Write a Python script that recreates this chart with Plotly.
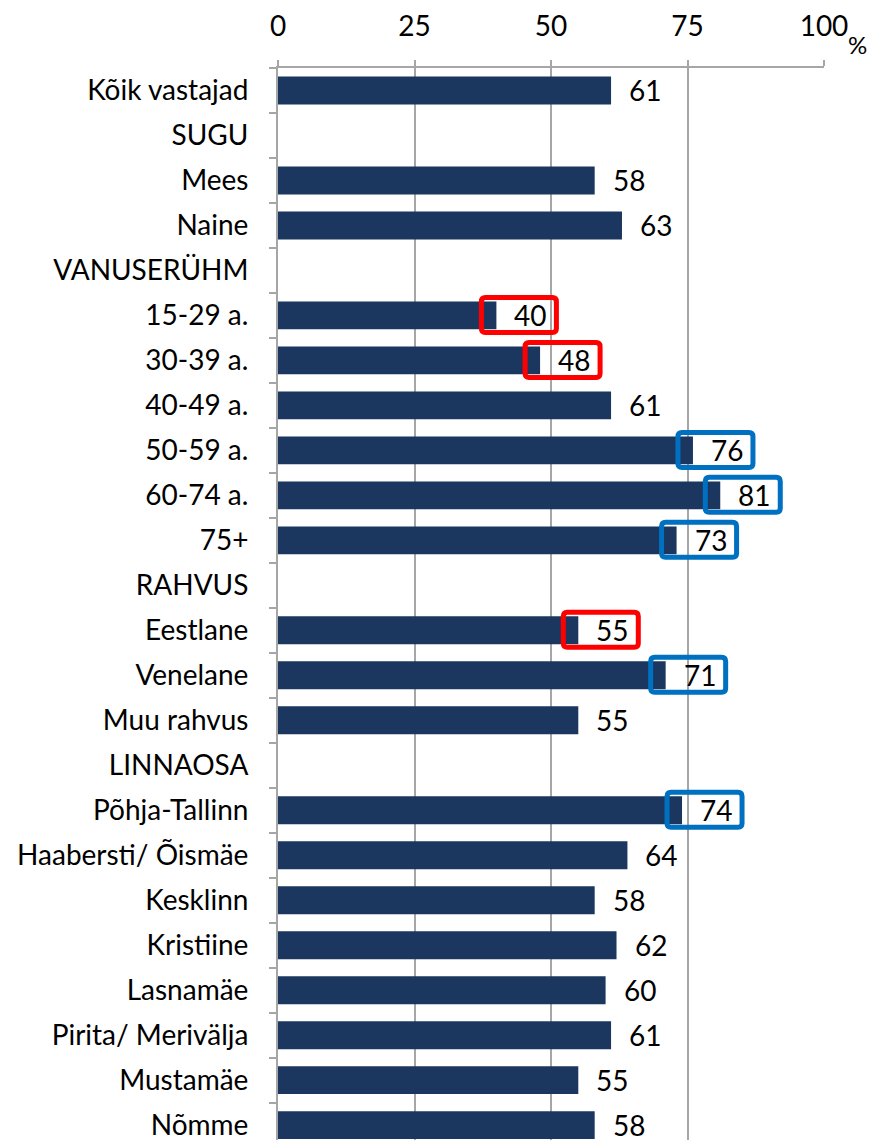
import plotly.graph_objects as go

# rows from top to bottom; group headers have no value
categories = [
    "Kõik vastajad", "SUGU", "Mees", "Naine", "VANUSERÜHM",
    "15-29 a.", "30-39 a.", "40-49 a.", "50-59 a.", "60-74 a.", "75+",
    "RAHVUS", "Eestlane", "Venelane", "Muu rahvus", "LINNAOSA",
    "Põhja-Tallinn", "Haabersti/ Õismäe", "Kesklinn", "Kristiine",
    "Lasnamäe", "Pirita/ Merivälja", "Mustamäe", "Nõmme",
]
values = [
    61, None, 58, 63, None,
    40, 48, 61, 76, 81, 73,
    None, 55, 71, 55, None,
    74, 64, 58, 62, 60, 61, 55, 58,
]
# highlight boxes around the value labels
low_rows = ["15-29 a.", "30-39 a.", "Eestlane"]
high_rows = ["50-59 a.", "60-74 a.", "75+", "Venelane", "Põhja-Tallinn"]
x_ticks = [0, 25, 50, 75, 100]

BAR = "#1B375F"
GRID = "#A6A6A6"
FONT = "Lato"
FS = 28

fig = go.Figure()
fig.add_trace(go.Bar(
    x=values,
    y=categories,
    orientation="h",
    width=0.62,
    marker=dict(color=BAR, line=dict(width=0)),
    hoverinfo="skip",
))


def rounded_box(w0, w1, h0, h1, r=4):
    return (f"M {w0 + r},{h0} L {w1 - r},{h0} Q {w1},{h0} {w1},{h0 + r} "
            f"L {w1},{h1 - r} Q {w1},{h1} {w1 - r},{h1} L {w0 + r},{h1} "
            f"Q {w0},{h1} {w0},{h1 - r} L {w0},{h0 + r} Q {w0},{h0} {w0 + r},{h0} Z")


for cat, val in zip(categories, values):
    if val is None:
        continue
    fig.add_annotation(
        x=val, y=cat, text=str(val), showarrow=False,
        xanchor="left", xshift=16,
        font=dict(family=FONT, size=FS, color="black"),
    )
    if cat in low_rows or cat in high_rows:
        color = "#FF0000" if cat in low_rows else "#0070C0"
        fig.add_shape(
            type="path",
            xref="x", yref="y",
            xsizemode="pixel", ysizemode="pixel",
            xanchor=val, yanchor=cat,
            path=rounded_box(-15, 60, -17, 18),
            line=dict(color=color, width=5),
            fillcolor="rgba(0,0,0,0)",
        )

fig.add_annotation(
    x=1.062, y=1.022, xref="paper", yref="paper", text="%",
    xanchor="center", yanchor="middle",
    showarrow=False, font=dict(family=FONT, size=24, color="black"),
)

# page body has an 8px margin, so the figure is 8px smaller than the window
fig.update_layout(
    width=875,
    height=1132,
    margin=dict(l=270, r=59, t=60, b=0),
    plot_bgcolor="white",
    paper_bgcolor="white",
    showlegend=False,
    font=dict(family=FONT, size=FS, color="black"),
    xaxis=dict(
        side="top",
        range=[0, 100],
        tickvals=x_ticks,
        showgrid=True, gridcolor=GRID, gridwidth=2,
        showline=True, linecolor=GRID, linewidth=2,
        ticks="outside", ticklen=6, tickcolor=GRID, tickwidth=2,
        ticklabelstandoff=13,
        zeroline=False,
        tickfont=dict(family=FONT, size=FS, color="black"),
    ),
    yaxis=dict(
        type="category",
        categoryorder="array", categoryarray=categories,
        range=[23.33, -0.5],
        showgrid=False,
        showline=True, linecolor=GRID, linewidth=2,
        ticks="outside", ticklen=7, tickcolor=GRID, tickwidth=2,
        tickson="boundaries",
        ticklabelstandoff=22,
        tickfont=dict(family=FONT, size=FS, color="black"),
    ),
)

fig.write_html("out.html")
